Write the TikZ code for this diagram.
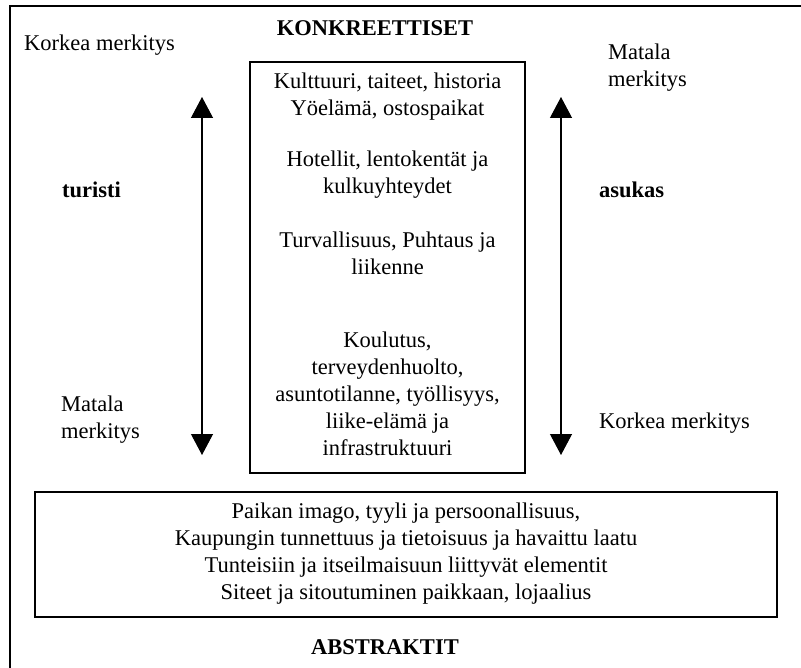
\documentclass[tikz,border=0pt]{standalone}
\usepackage{fontspec}
\setmainfont{Liberation Serif}
\usetikzlibrary{arrows.meta,shadows}
\begin{document}
\begin{tikzpicture}[x=1pt,y=-1pt,
  every node/.style={inner sep=0pt,font=\fontsize{22.5}{27}\selectfont},
  txt/.style={align=center},
  side/.style={anchor=west,align=left},
  head/.style={font=\fontsize{22.5}{27}\selectfont\bfseries},
  scale arrow/.style={line width=1.2pt,{Triangle[length=21pt,width=22pt]}-{Triangle[length=21pt,width=22pt]}}]
\useasboundingbox (0,0) rectangle (801,668);
% outer frame, open to the right and below
\draw[line width=2pt] (10,668)--(10,6)--(801,6);
% boxes
\node[draw,line width=1.3pt,minimum width=275pt,minimum height=411pt] (concrete) at (387.5,267.5) {};
\node[draw,fill=white,line width=1.6pt,minimum width=742pt,minimum height=125pt,
  drop shadow={shadow xshift=1.3pt,shadow yshift=-1.3pt,fill=gray!70,opacity=1}] (abstract) at (406,554.5) {};
% headings
\node[head] (konk) at (375,28) {KONKREETTISET};
\node[head] (abstr) at (385,647) {ABSTRAKTIT};
% contents of the concrete box
\node[txt] (g1) at (387.5,96.5) {Kulttuuri, taiteet, historia\\Yöelämä, ostospaikat};
\node[txt] (g2) at (387.5,175) {Hotellit, lentokentät ja\\kulkuyhteydet};
\node[txt] (g3) at (387.5,253.5) {Turvallisuus, Puhtaus ja\\liikenne};
\node[txt] (g4) at (387.5,393.5) {Koulutus,\\terveydenhuolto,\\asuntotilanne, työllisyys,\\liike-elämä ja\\infrastruktuuri};
% contents of the abstract box
\node[txt] (abs) at (406,553.5) {Paikan imago, tyyli ja persoonallisuus,\\Kaupungin tunnettuus ja tietoisuus ja havaittu laatu\\Tunteisiin ja itseilmaisuun liittyvät elementit\\Siteet ja sitoutuminen paikkaan, lojaalius};
% left scale: turisti
\node[side] (tHigh) at (24,45) {Korkea merkitys};
\node[head,side] (tur) at (62,190) {turisti};
\node[side] (tLow) at (61,419.5) {Matala\\merkitys};
\coordinate (tTop) at (202,97);
\coordinate (tBot) at (202,455);
\draw[scale arrow] (tBot)--(tTop);
% right scale: asukas
\node[side] (aLow) at (608,67.5) {Matala\\merkitys};
\node[head,side] (asu) at (599,190) {asukas};
\node[side] (aHigh) at (599,423) {Korkea merkitys};
\coordinate (aTop) at (561,97);
\coordinate (aBot) at (561,455);
\draw[scale arrow] (aBot)--(aTop);
\end{tikzpicture}
\end{document}
